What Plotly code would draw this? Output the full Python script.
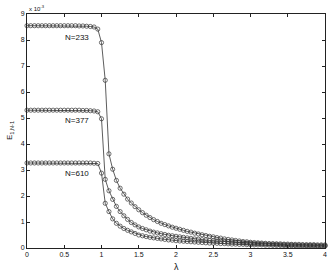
import plotly.graph_objects as go

lam = [0.00, 0.05, 0.10, 0.15, 0.20, 0.25, 0.30, 0.35, 0.40, 0.45,
       0.50, 0.55, 0.60, 0.65, 0.70, 0.75, 0.80, 0.85, 0.90, 0.95,
       1.00, 1.05, 1.10, 1.15, 1.20, 1.25, 1.30, 1.35, 1.40, 1.45,
       1.50, 1.55, 1.60, 1.65, 1.70, 1.75, 1.80, 1.85, 1.90, 1.95,
       2.00, 2.05, 2.10, 2.15, 2.20, 2.25, 2.30, 2.35, 2.40, 2.45,
       2.50, 2.55, 2.60, 2.65, 2.70, 2.75, 2.80, 2.85, 2.90, 2.95,
       3.00, 3.05, 3.10, 3.15, 3.20, 3.25, 3.30, 3.35, 3.40, 3.45,
       3.50, 3.55, 3.60, 3.65, 3.70, 3.75, 3.80, 3.85, 3.90, 3.95,
       4.00]

# values in units of 1e-3
e_233 = [8.55, 8.55, 8.55, 8.55, 8.55, 8.55, 8.55, 8.55, 8.55, 8.55,
         8.55, 8.55, 8.55, 8.55, 8.54, 8.54, 8.53, 8.52, 8.50, 8.42,
         7.90, 6.45, 3.62, 3.03, 2.60, 2.30, 2.07, 1.88, 1.73, 1.59,
         1.47, 1.36, 1.26, 1.17, 1.09, 1.02, 0.95, 0.90, 0.85, 0.80,
         0.76, 0.72, 0.68, 0.64, 0.61, 0.57, 0.54, 0.51, 0.48, 0.45,
         0.43, 0.40, 0.38, 0.35, 0.33, 0.31, 0.29, 0.27, 0.25, 0.24,
         0.22, 0.21, 0.20, 0.19, 0.18, 0.17, 0.17, 0.16, 0.16, 0.15,
         0.15, 0.14, 0.14, 0.14, 0.13, 0.13, 0.13, 0.13, 0.12, 0.12,
         0.12]

e_377 = [5.30, 5.30, 5.30, 5.30, 5.30, 5.30, 5.30, 5.30, 5.30, 5.30,
         5.30, 5.30, 5.30, 5.30, 5.30, 5.29, 5.29, 5.28, 5.27, 5.24,
         4.97, 2.64, 2.20, 1.87, 1.60, 1.40, 1.24, 1.10, 0.98, 0.89,
         0.81, 0.75, 0.70, 0.65, 0.61, 0.58, 0.55, 0.52, 0.49, 0.47,
         0.45, 0.43, 0.41, 0.39, 0.37, 0.35, 0.34, 0.32, 0.31, 0.29,
         0.28, 0.27, 0.26, 0.25, 0.24, 0.23, 0.22, 0.21, 0.20, 0.19,
         0.18, 0.17, 0.17, 0.16, 0.15, 0.15, 0.14, 0.14, 0.13, 0.13,
         0.12, 0.12, 0.11, 0.11, 0.11, 0.10, 0.10, 0.10, 0.09, 0.09,
         0.09]

e_610 = [3.27, 3.27, 3.27, 3.27, 3.27, 3.27, 3.27, 3.27, 3.27, 3.27,
         3.27, 3.27, 3.27, 3.27, 3.27, 3.27, 3.27, 3.27, 3.26, 3.25,
         2.88, 1.72, 1.40, 1.12, 0.95, 0.84, 0.75, 0.68, 0.62, 0.56,
         0.50, 0.47, 0.44, 0.41, 0.39, 0.37, 0.35, 0.33, 0.31, 0.30,
         0.28, 0.27, 0.26, 0.25, 0.24, 0.23, 0.22, 0.21, 0.20, 0.19,
         0.19, 0.18, 0.17, 0.17, 0.16, 0.15, 0.15, 0.14, 0.14, 0.13,
         0.13, 0.12, 0.12, 0.12, 0.11, 0.11, 0.10, 0.10, 0.10, 0.09,
         0.09, 0.09, 0.09, 0.08, 0.08, 0.08, 0.08, 0.08, 0.07, 0.07,
         0.07]

series = [("N=233", e_233, 8.1), ("N=377", e_377, 4.9), ("N=610", e_610, 2.87)]
label_x = 0.67
x_ticks = [0, 0.5, 1, 1.5, 2, 2.5, 3, 3.5, 4]
x_tick_text = ["0", "0.5", "1", "1.5", "2", "2.5", "3", "3.5", "4"]
y_ticks = [0, 1, 2, 3, 4, 5, 6, 7, 8, 9]

FONT = "Liberation Sans, Arial, sans-serif"

fig = go.Figure()
for name, vals, ly in series:
    fig.add_trace(go.Scatter(
        x=lam, y=vals, mode="lines+markers", name=name,
        line=dict(color="#333333", width=0.8),
        marker=dict(symbol="circle-open", size=4.2, color="#333333",
                    line=dict(width=0.7, color="#333333")),
        showlegend=False, cliponaxis=False))
    fig.add_annotation(x=label_x, y=ly, text=name, showarrow=False,
                       font=dict(size=8, color="#111111", family=FONT))

fig.add_annotation(x=0, y=1, xref="paper", yref="paper", xanchor="left",
                   yanchor="bottom", text="x 10<sup>-3</sup>", showarrow=False,
                   font=dict(size=6, color="#111111", family=FONT), yshift=0)

# axis titles as paper annotations
fig.add_annotation(x=0.5, y=0, xref="paper", yref="paper", xanchor="center",
                   yanchor="top", yshift=-12, text="λ", showarrow=False,
                   font=dict(size=9, color="#111111", family=FONT))
fig.add_annotation(x=0, y=0.5, xref="paper", yref="paper", xanchor="center",
                   yanchor="middle", xshift=-17, text="E<sub>1,N-1</sub>",
                   textangle=-90, showarrow=False,
                   font=dict(size=8, color="#111111", family=FONT))

axis_common = dict(showline=True, linecolor="#222222", linewidth=1,
                   mirror="ticks", ticks="inside", ticklen=3,
                   tickcolor="#222222", showgrid=False, zeroline=False,
                   automargin=False,
                   tickfont=dict(size=7, color="#111111", family=FONT))

fig.update_layout(
    width=332, height=272,
    margin=dict(l=27, r=7, t=14, b=24, autoexpand=False),
    paper_bgcolor="white", plot_bgcolor="white",
    font=dict(family=FONT, color="#111111"),
    xaxis=dict(range=[0, 4], tickvals=x_ticks, ticktext=x_tick_text,
               **axis_common),
    yaxis=dict(range=[0, 9], tickvals=y_ticks, **axis_common),
)

fig.write_html("out.html", config={"responsive": False, "displayModeBar": False,
                                   "staticPlot": True})

# remove the browser's default page margin so the figure sits at (0, 0)
with open("out.html", "r", encoding="utf-8") as f:
    html = f.read()
html = html.replace("<head>", "<head><style>html,body{margin:0;padding:0;overflow:hidden;}</style>", 1)
with open("out.html", "w", encoding="utf-8") as f:
    f.write(html)
